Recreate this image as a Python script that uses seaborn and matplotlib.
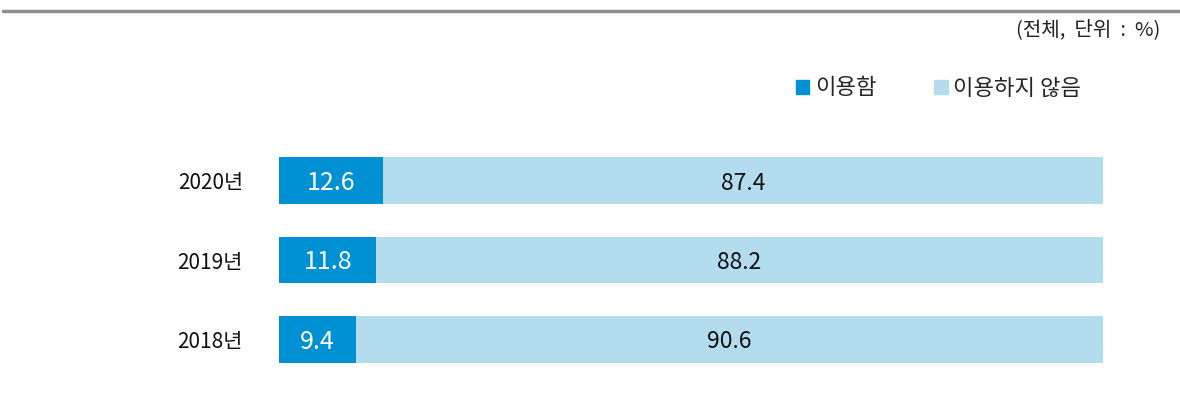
import matplotlib
matplotlib.use("Agg")
import matplotlib.pyplot as plt
import matplotlib.patches as mpatches
from matplotlib.lines import Line2D
import pandas as pd
import seaborn as sns

years = ['2020년', '2019년', '2018년']
used = [12.6, 11.8, 9.4]
not_used = [87.4, 88.2, 90.6]
series_names = ['이용함', '이용하지 않음']

dark = '#0091d5'
light = '#b3dcef'

sns.set_theme(style='white')
plt.rcParams['font.family'] = ['Noto Sans CJK KR', 'DejaVu Sans']

df = pd.DataFrame({'year': years, 'used': used, 'not_used': not_used})
df['total'] = df['used'] + df['not_used']

fig = plt.figure(figsize=(11.8, 4.08), dpi=100)
ax = fig.add_axes([279 / 1180, 1 - 379 / 408, 824 / 1180, 238 / 408])

# light bar = full length, dark bar drawn over it
sns.barplot(data=df, x='total', y='year', color=light, width=0.59,
            saturation=1, linewidth=0, ax=ax, orient='h')
sns.barplot(data=df, x='used', y='year', color=dark, width=0.59,
            saturation=1, linewidth=0, ax=ax, orient='h')

for i, row in df.iterrows():
    ax.text(row['used'] / 2, i + 0.03, f"{row['used']:.1f}", ha='center', va='center',
            color='white', fontsize=18)
    ax.text(row['used'] + row['not_used'] / 2, i + 0.03, f"{row['not_used']:.1f}",
            ha='center', va='center', color='#111111', fontsize=16.5)

ax.set_xlim(0, 100)
ax.set_ylim(2.5, -0.5)
ax.set_xlabel('')
ax.set_ylabel('')
ax.set_xticks([])
ax.tick_params(axis='y', length=0, pad=26, labelsize=15, labelcolor='#111111')
sns.despine(ax=ax, left=True, bottom=True)

# legend
handles = [mpatches.Patch(color=dark, label=series_names[0]),
           mpatches.Patch(color=light, label=series_names[1])]
fig.legend(handles=handles, loc='center left', bbox_to_anchor=(796 / 1180, 1 - 88 / 408),
           ncol=2, frameon=False, fontsize=16, handlelength=0.6, handleheight=0.6,
           handletextpad=0.25, columnspacing=2.6, borderpad=0, borderaxespad=0)

# top rule and unit note
fig.add_artist(Line2D([3 / 1180, 1], [1 - 11 / 408, 1 - 11 / 408],
                      color='#8c8c8c', linewidth=2.5, transform=fig.transFigure))
fig.text(1160 / 1180, 1 - 30 / 408, '(전체,  단위  :  %)', ha='right', va='center',
         fontsize=14.5, color='#222222')

fig.savefig('out.png', dpi=100)
